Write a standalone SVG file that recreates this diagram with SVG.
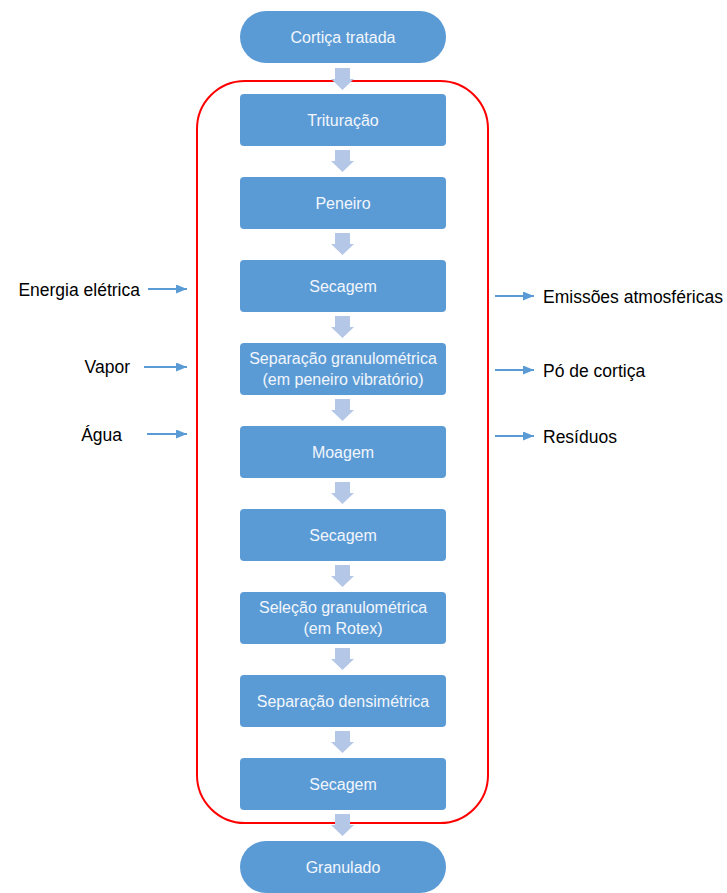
<svg xmlns="http://www.w3.org/2000/svg" width="727" height="893" viewBox="0 0 727 893">
<style>
.box{fill:#5b9bd5}
.bt{font-family:"Liberation Sans",Arial,sans-serif;font-size:16px;fill:#f2f6fc;text-anchor:middle}
.lbl{font-family:"Liberation Sans",Arial,sans-serif;font-size:17.5px;fill:#000}
.flow{fill:#b4c7e7}
.side{stroke:#5b9bd5;stroke-width:1.8;fill:none;marker-end:url(#ah)}
</style>
<defs>
<marker id="ah" markerWidth="11" markerHeight="9" refX="11" refY="4.5" orient="auto" markerUnits="userSpaceOnUse">
<path d="M0,0 L11,4.5 L0,9 Z" fill="#5b9bd5"/>
</marker>
<path id="blk" d="M-7,0 H8 V11 H12 L0.5,22 L-11,11 H-7 Z"/>
</defs>
<rect x="197" y="81" width="291" height="742" rx="48" ry="48" fill="none" stroke="#ff0000" stroke-width="2"/>
<g id="connectors">
<use href="#blk" class="flow" x="342" y="68"/>
<use href="#blk" class="flow" x="342" y="150"/>
<use href="#blk" class="flow" x="342" y="233"/>
<use href="#blk" class="flow" x="342" y="316"/>
<use href="#blk" class="flow" x="342" y="399"/>
<use href="#blk" class="flow" x="342" y="482"/>
<use href="#blk" class="flow" x="342" y="565"/>
<use href="#blk" class="flow" x="342" y="648"/>
<use href="#blk" class="flow" x="342" y="731"/>
<use href="#blk" class="flow" x="342" y="814"/>
<line class="side" x1="148" y1="289" x2="187" y2="289"/>
<line class="side" x1="144" y1="367" x2="187" y2="367"/>
<line class="side" x1="147" y1="434" x2="187" y2="434"/>
<line class="side" x1="495" y1="296" x2="534" y2="296"/>
<line class="side" x1="495" y1="370" x2="534" y2="370"/>
<line class="side" x1="495" y1="436" x2="534" y2="436"/>
</g>
<g id="n-cortica"><rect class="box" x="240" y="11" width="206" height="52" rx="26"/><text class="bt" x="343" y="43">Cortiça tratada</text></g>
<g id="n-trituracao"><rect class="box" x="240" y="94" width="206" height="52" rx="4"/><text class="bt" x="343" y="126">Trituração</text></g>
<g id="n-peneiro"><rect class="box" x="240" y="177" width="206" height="52" rx="4"/><text class="bt" x="343" y="209">Peneiro</text></g>
<g id="n-secagem1"><rect class="box" x="240" y="260" width="206" height="52" rx="4"/><text class="bt" x="343" y="292">Secagem</text></g>
<g id="n-separacao"><rect class="box" x="240" y="343" width="206" height="52" rx="4"/><text class="bt" x="343" y="364">Separação granulométrica</text><text class="bt" x="343" y="385">(em peneiro vibratório)</text></g>
<g id="n-moagem"><rect class="box" x="240" y="426" width="206" height="52" rx="4"/><text class="bt" x="343" y="458">Moagem</text></g>
<g id="n-secagem2"><rect class="box" x="240" y="509" width="206" height="52" rx="4"/><text class="bt" x="343" y="541">Secagem</text></g>
<g id="n-selecao"><rect class="box" x="240" y="592" width="206" height="52" rx="4"/><text class="bt" x="343" y="613">Seleção granulométrica</text><text class="bt" x="343" y="634">(em Rotex)</text></g>
<g id="n-densimetrica"><rect class="box" x="240" y="675" width="206" height="52" rx="4"/><text class="bt" x="343" y="707">Separação densimétrica</text></g>
<g id="n-secagem3"><rect class="box" x="240" y="758" width="206" height="52" rx="4"/><text class="bt" x="343" y="790">Secagem</text></g>
<g id="n-granulado"><rect class="box" x="240" y="841" width="206" height="52" rx="26"/><text class="bt" x="343" y="873">Granulado</text></g>
<g id="l-energia"><text class="lbl" x="140" y="296" text-anchor="end">Energia elétrica</text></g>
<g id="l-vapor"><text class="lbl" x="130" y="373" text-anchor="end">Vapor</text></g>
<g id="l-agua"><text class="lbl" x="122" y="441" text-anchor="end">Água</text></g>
<g id="l-emissoes"><text class="lbl" x="543" y="303">Emissões atmosféricas</text></g>
<g id="l-po"><text class="lbl" x="543" y="377">Pó de cortiça</text></g>
<g id="l-residuos"><text class="lbl" x="543" y="443">Resíduos</text></g>
</svg>
